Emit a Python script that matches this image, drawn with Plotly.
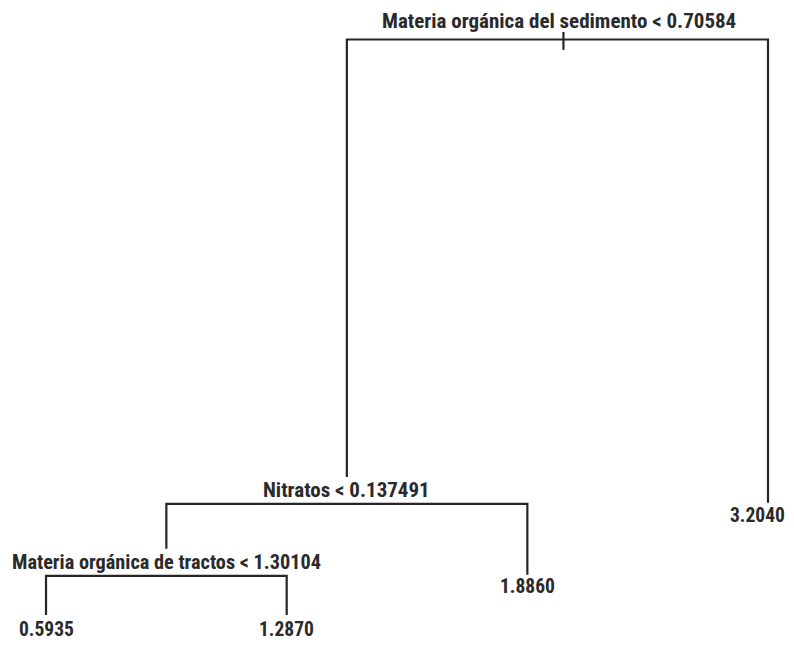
import plotly.graph_objects as go

# Tree structure (node order: root, Nitratos split, tractos split, leaves)
node_names = ["root", "nitratos", "tractos", "leaf1", "leaf2", "leaf3", "leaf4"]
node_x = [3.15, 2.25, 1.5, 1.0, 2.0, 3.0, 4.0]          # leaf-order position
node_dev = [100.0, 19.3, 6.8, 0.0, 0.0, 7.0, 19.5]      # node height (deviance scale)
node_left = [1, 2, 3, None, None, None, None]
node_right = [6, 5, 4, None, None, None, None]
split_labels = ["Materia orgánica del sedimento < 0.70584",
                "Nitratos < 0.137491",
                "Materia orgánica de tractos < 1.30104"]
leaf_values = ["0.5935", "1.2870", "1.8860", "3.2040"]
leaf_nodes = [3, 4, 5, 6]

LABEL_GAP = 4.7  # room left above an internal node for its split label


def branch_end(c):
    # vertical branches stop above a child's split label
    return node_dev[c] + (LABEL_GAP if node_left[c] is not None else 0.0)


xs, ys = [], []
for i in range(len(node_names)):
    l, r = node_left[i], node_right[i]
    if l is None:
        continue
    xs += [node_x[l], node_x[l], node_x[r], node_x[r], None]
    ys += [branch_end(l), node_dev[i], node_dev[i], branch_end(r), None]
# small tick at root
xs += [node_x[0], node_x[0], None]
ys += [node_dev[0] + 1.3, node_dev[0] - 1.8, None]

fig = go.Figure()
fig.add_trace(go.Scatter(x=xs, y=ys, mode="lines",
                         line=dict(color="#262626", width=2.2),
                         hoverinfo="skip", showlegend=False))

family = "Roboto Condensed, DejaVu Sans Condensed, Roboto, sans-serif"
split_sizes = [21, 21, 20.3]
leaf_font = dict(family=family, size=19.5, color="#2a2a2a", weight="bold")
split_shift = [5, 1, 1]
for k, lab in enumerate(split_labels):
    fig.add_annotation(x=node_x[k] - (0.02 if k == 0 else 0), y=node_dev[k], text=lab,
                       showarrow=False, xanchor="center", yanchor="bottom",
                       yshift=split_shift[k], borderpad=0,
                       font=dict(family=family, size=split_sizes[k],
                                 color="#2a2a2a", weight="bold"))
leaf_shift = [-1, -1, 2, 1]
for j, (n, val) in enumerate(zip(leaf_nodes, leaf_values)):
    last = n == leaf_nodes[-1]
    fig.add_annotation(x=node_x[n] + (0.08 if last else 0), y=node_dev[n], text=val,
                       showarrow=False, xanchor="right" if last else "center",
                       yanchor="top", yshift=leaf_shift[j], font=leaf_font)

fig.update_layout(
    width=786, height=650,
    margin=dict(l=0, r=0, t=0, b=0),
    paper_bgcolor="white", plot_bgcolor="white",
    xaxis=dict(range=[0.842, 4.108], visible=False, fixedrange=True),
    yaxis=dict(range=[-7.47, 105.47], visible=False, fixedrange=True),
)
fig.write_html("out.html")
